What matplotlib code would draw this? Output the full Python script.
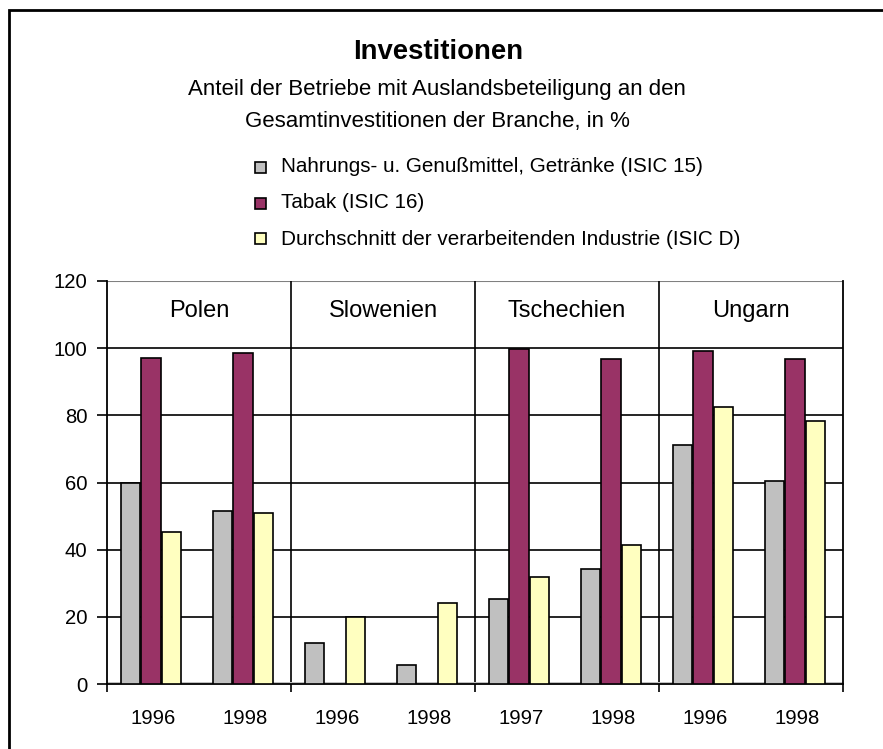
import matplotlib
matplotlib.use("Agg")
import matplotlib.pyplot as plt
from matplotlib.patches import Rectangle
import numpy as np

plt.rcParams['font.family'] = ['Liberation Sans', 'DejaVu Sans']

# Data
countries = ["Polen", "Slowenien", "Tschechien", "Ungarn"]
years = ["1996", "1998", "1996", "1998", "1997", "1998", "1996", "1998"]
series_names = [
    "Nahrungs- u. Genußmittel, Getränke (ISIC 15)",
    "Tabak (ISIC 16)",
    "Durchschnitt der verarbeitenden Industrie (ISIC D)",
]
nahrung = [60, 51.6, 12.1, 5.7, 25.3, 34.2, 71.2, 60.5]
tabak = [97, 98.5, 0, 0, 99.7, 96.7, 99.2, 96.7]
industrie = [45.4, 50.8, 20, 24.1, 31.9, 41.4, 82.5, 78.4]
colors = ["#C0C0C0", "#993366", "#FFFFC0"]

W, H = 883, 749
fig = plt.figure(figsize=(W / 100, H / 100), dpi=100)

# Outer frame
fig.patches.append(Rectangle((8.5 / W, 1 - 760 / H), 890 / W, 750 / H,
                             transform=fig.transFigure, fill=False,
                             edgecolor="black", linewidth=2))

ax = fig.add_axes([107 / W, 1 - 684 / H, 736 / W, 403 / H])
ax.set_xlim(0, 8)
ax.set_ylim(0, 120)

centers = np.arange(len(years)) + 0.5
x = centers - 0.022
bw = 0.21
offs = [-0.222, 0, 0.222]
for vals, c, off in zip([nahrung, tabak, industrie], colors, offs):
    xs = [xi + off for xi, v in zip(x, vals) if v > 0]
    vs = [v for v in vals if v > 0]
    ax.bar(xs, vs, width=bw, color=c, edgecolor="black", linewidth=1.2, zorder=3)

# Grid and separators
for yv in range(20, 120, 20):
    ax.axhline(yv, color="black", linewidth=1.2, zorder=1)
ax.axhline(120, color="#808080", linewidth=1.5, zorder=1)
ax.axhspan(0, 0.45, color="#C0C0C0", zorder=2, linewidth=0)
for xv in [2, 4, 6]:
    ax.axvline(xv, color="black", linewidth=1.2, zorder=1)

ax.spines["top"].set_visible(False)
for s in ["left", "bottom", "right"]:
    ax.spines[s].set_color("black")
    ax.spines[s].set_linewidth(1.3)

ax.set_yticks(range(0, 121, 20))
ax.tick_params(axis="y", direction="out", length=7, width=1.2, labelsize=14.6, pad=7)
ax.set_xticks([0, 2, 4, 6, 8])
ax.set_xticklabels([])
ax.tick_params(axis="x", direction="out", length=6, width=1.2)
for xi, lab in zip(centers, years):
    ax.text(xi, -10.3, lab, ha="center", va="center", fontsize=14.6)

for i, name in enumerate(countries):
    ax.text(2 * i + 1, 111, name, ha="center", va="center", fontsize=17)

# Titles
fig.text(438 / W, 1 - 52 / H, "Investitionen", ha="center", va="center",
         fontsize=19.8, fontweight="bold")
fig.text(437 / W, 1 - 89 / H, "Anteil der Betriebe mit Auslandsbeteiligung an den",
         ha="center", va="center", fontsize=16)
fig.text(437 / W, 1 - 122 / H, "Gesamtinvestitionen der Branche, in %",
         ha="center", va="center", fontsize=16)

# Legend
for i, (name, c) in enumerate(zip(series_names, colors)):
    yc = 167 + 36 * i
    fig.patches.append(Rectangle((255 / W, 1 - (yc + 5.5) / H), 11 / W, 11 / H,
                                 transform=fig.transFigure, facecolor=c,
                                 edgecolor="black", linewidth=1.2))
    fig.text(281 / W, 1 - yc / H, name, ha="left", va="center", fontsize=14.9)

fig.savefig("out.png", dpi=100)
